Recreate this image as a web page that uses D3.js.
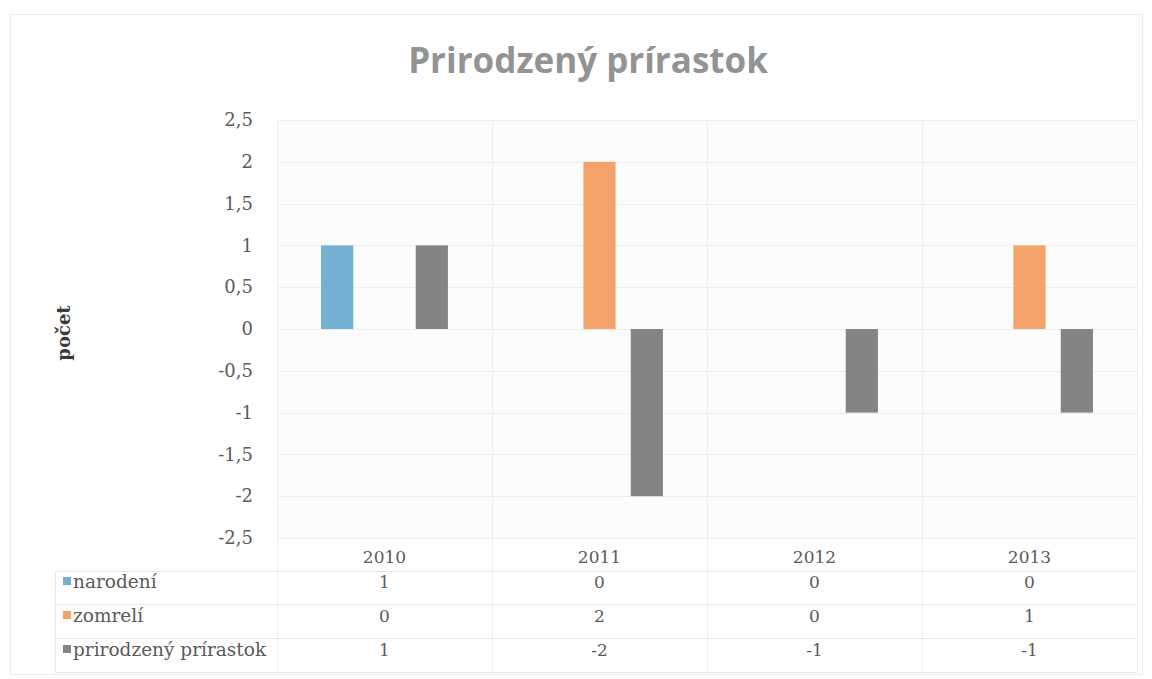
<!DOCTYPE html>
<html><head><meta charset="utf-8">
<script src="https://cdn.jsdelivr.net/npm/d3@7"></script>
<style>
html,body{margin:0;padding:0;background:#fff;}
svg{display:block;}
</style></head>
<body>
<svg id="chart" width="1152" height="679"></svg>
<script>
const years = ["2010","2011","2012","2013"];
const seriesNames = ["narodení","zomrelí","prirodzený prírastok"];
const narodeni = [1,0,0,0];
const zomreli = [0,2,0,1];
const prirastok = [1,-2,-1,-1];
const yTicks = [2.5,2,1.5,1,0.5,0,-0.5,-1,-1.5,-2,-2.5];
const colors = ["#72afd0","#f4a36b","#848484"];
const seriesValues = [narodeni, zomreli, prirastok];

const svg = d3.select("#chart");
const plot = {left:277, right:1137, top:120, bottom:538};
const serif = "'DejaVu Serif',serif";
const textCol = "#5a5a5a";

// outer chart border
svg.append("rect").attr("x",10.5).attr("y",14.5).attr("width",1132).attr("height",660)
  .attr("fill","#fff").attr("stroke","#ececec").attr("stroke-width",1);

// plot background
svg.append("rect").attr("x",plot.left).attr("y",plot.top)
  .attr("width",plot.right-plot.left).attr("height",plot.bottom-plot.top)
  .attr("fill","#fcfcfc");

const x0 = d3.scaleBand().domain(years).range([plot.left, plot.right]).padding(0);
const x1 = d3.scaleBand().domain(seriesNames).range([36.5, x0.bandwidth()-36.5]).paddingInner(0.32).paddingOuter(0.16);
const y = d3.scaleLinear().domain([-2.5,2.5]).range([plot.bottom, plot.top]);

const fmt = v => String(v).replace(".", ",");

// gridlines
svg.append("g").selectAll("line").data(yTicks).join("line")
  .attr("x1",plot.left).attr("x2",plot.right)
  .attr("y1",d=>Math.round(y(d))+0.5).attr("y2",d=>Math.round(y(d))+0.5)
  .attr("stroke","#ededed").attr("stroke-width",1);

// y axis
const yAxis = svg.append("g").attr("transform",`translate(${plot.left},0)`)
  .call(d3.axisLeft(y).tickValues(yTicks).tickFormat(fmt).tickSize(0).tickPadding(24));
yAxis.select(".domain").remove();
yAxis.selectAll("text").attr("font-family",serif).attr("font-size",18).attr("fill",textCol);

// y label
svg.append("text").attr("transform",`translate(70,${333}) rotate(-90)`)
  .attr("text-anchor","middle").attr("font-family",serif).attr("font-weight","bold")
  .attr("font-size",18).attr("fill","#3a3a3a").text("počet");

// data table lines
const tLeft = 55;
const rowLines = [571,604,638,672];
const tg = svg.append("g");
tg.selectAll("line.v").data(d3.range(years.length+1)).join("line").attr("class","v")
  .attr("x1",i=>Math.round(plot.left + i*x0.bandwidth())+0.5)
  .attr("x2",i=>Math.round(plot.left + i*x0.bandwidth())+0.5)
  .attr("y1",plot.top).attr("y2",672).attr("stroke","#efefef");
tg.selectAll("line.h").data(rowLines).join("line").attr("class","h")
  .attr("x1",tLeft).attr("x2",plot.right).attr("y1",d=>d+0.5).attr("y2",d=>d+0.5)
  .attr("stroke","#e6e6e6");
tg.append("line").attr("x1",tLeft+0.5).attr("x2",tLeft+0.5).attr("y1",571).attr("y2",672).attr("stroke","#e6e6e6");

// bars
const groups = svg.append("g").selectAll("g").data(years).join("g")
  .attr("transform",d=>`translate(${x0(d)},0)`);
groups.selectAll("rect").data((d,i)=>seriesNames.map((s,j)=>({s, v:seriesValues[j][i], c:colors[j]})))
  .join("rect")
  .attr("x",d=>x1(d.s)).attr("width",x1.bandwidth())
  .attr("y",d=>y(Math.max(0,d.v))).attr("height",d=>Math.abs(y(d.v)-y(0)))
  .attr("fill",d=>d.c);

// title
svg.append("text").attr("x",588).attr("y",73).attr("text-anchor","middle")
  .attr("font-family","'Open Sans',sans-serif").attr("font-weight","bold").attr("font-size",35)
  .attr("fill","#939393").text("Prirodzený prírastok");

// header (year labels)
tg.selectAll("text.yr").data(years).join("text").attr("class","yr")
  .attr("x",d=>x0(d)+x0.bandwidth()/2).attr("y",563).attr("text-anchor","middle")
  .attr("font-family",serif).attr("font-size",17).attr("fill",textCol).text(d=>d);

const rowMid = [587,621,655];
seriesNames.forEach((s,j)=>{
  tg.append("rect").attr("x",63).attr("y",rowMid[j]-10).attr("width",8).attr("height",8).attr("fill",colors[j]);
  tg.append("text").attr("x",73).attr("y",rowMid[j]+0.5).attr("font-family",serif).attr("font-size",18.5)
    .attr("fill",textCol).text(s);
  tg.selectAll(null).data(years).join("text")
    .attr("x",d=>x0(d)+x0.bandwidth()/2).attr("y",rowMid[j]+1).attr("text-anchor","middle")
    .attr("font-family",serif).attr("font-size",17).attr("fill",textCol)
    .text((d,i)=>fmt(seriesValues[j][i]));
});
</script>
</body></html>
